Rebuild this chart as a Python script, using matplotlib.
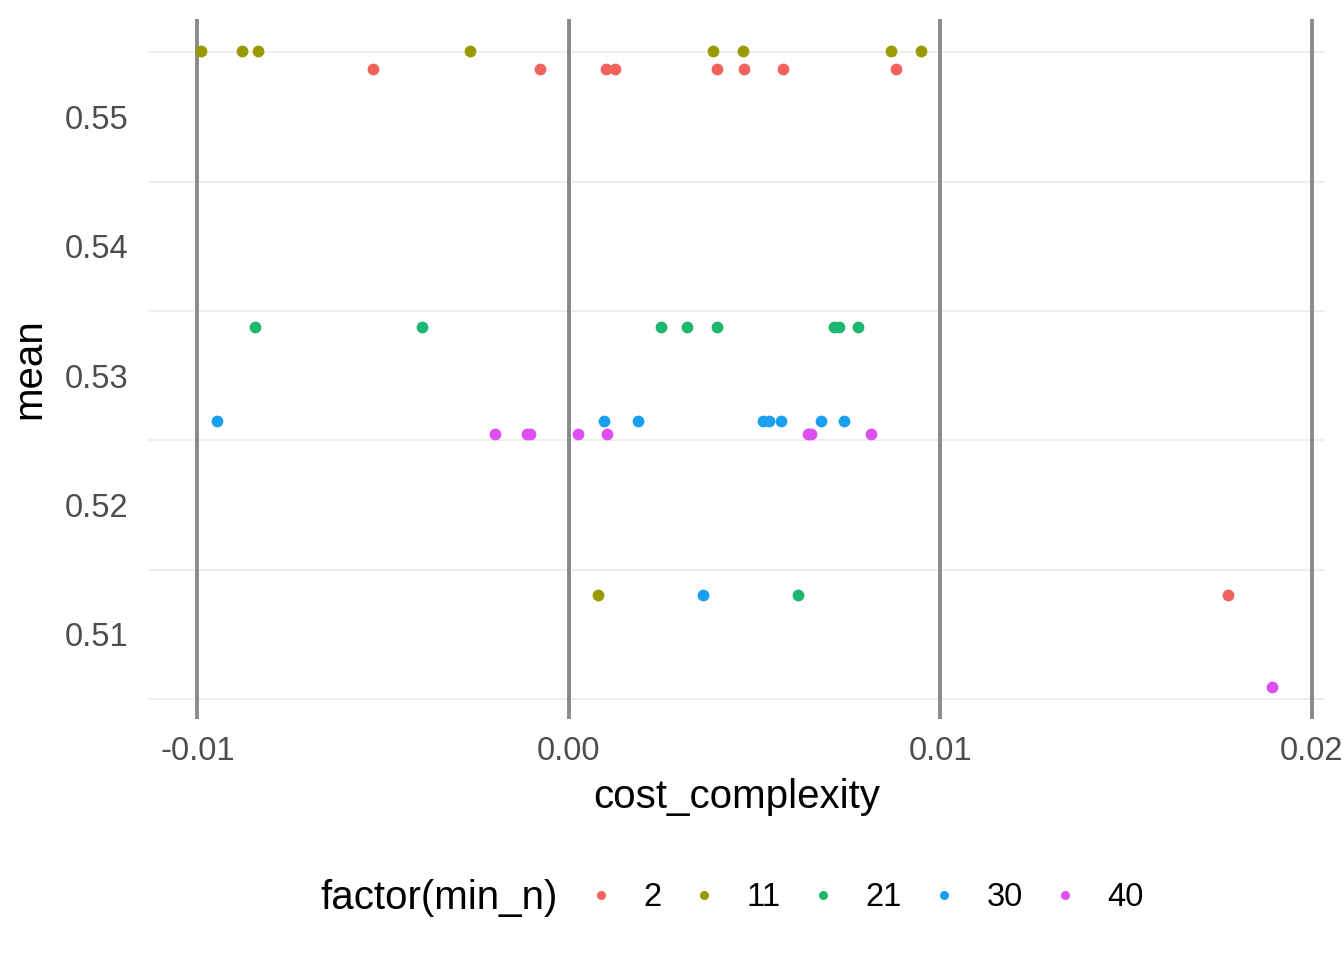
import matplotlib
matplotlib.use("Agg")
import matplotlib.pyplot as plt
from matplotlib.lines import Line2D

plt.rcParams['font.family'] = ['Liberation Sans', 'DejaVu Sans']

# factor(min_n) groups and their hue colours (as rendered in the reference)
groups = ["2", "11", "21", "30", "40"]
colors = ["#F2625D", "#999900", "#1CB86F", "#1A9FF0", "#DD4FEE"]

# jittered points: (cost_complexity, mean)
cc_2 = [-0.00526, -0.00078, 0.00101, 0.00124, 0.00399, 0.00472, 0.00577, 0.00881, 0.01776]
mean_2 = [0.55371, 0.55371, 0.55371, 0.55371, 0.55371, 0.55371, 0.55371, 0.55371, 0.51302]

cc_11 = [-0.00991, -0.00881, -0.00838, -0.00267, 0.00389, 0.00468, 0.00867, 0.00948, 0.00078]
mean_11 = [0.55511, 0.55511, 0.55511, 0.55511, 0.55511, 0.55511, 0.55511, 0.55511, 0.51302]

cc_21 = [-0.00846, -0.00394, 0.00248, 0.00318, 0.00398, 0.00715, 0.00727, 0.00779, 0.00617]
mean_21 = [0.53375, 0.53375, 0.53375, 0.53375, 0.53375, 0.53375, 0.53375, 0.53375, 0.51302]

cc_30 = [-0.00946, 0.00095, 0.00186, 0.00524, 0.00540, 0.00570, 0.00679, 0.00740, 0.00361]
mean_30 = [0.52648, 0.52648, 0.52648, 0.52648, 0.52648, 0.52648, 0.52648, 0.52648, 0.51302]

cc_40 = [-0.00198, -0.00113, -0.00105, 0.00026, 0.00102, 0.00643, 0.00652, 0.00814, 0.01892]
mean_40 = [0.52547, 0.52547, 0.52547, 0.52547, 0.52547, 0.52547, 0.52547, 0.52547, 0.50590]

xs = [cc_2, cc_11, cc_21, cc_30, cc_40]
ys = [mean_2, mean_11, mean_21, mean_30, mean_40]

vlines = [-0.01, 0.0, 0.01, 0.02]
x_ticks = [-0.01, 0.0, 0.01, 0.02]
x_labels = ["-0.01", "0.00", "0.01", "0.02"]
y_ticks = [0.51, 0.52, 0.53, 0.54, 0.55]
y_labels = ["0.51", "0.52", "0.53", "0.54", "0.55"]
y_grid = [0.505, 0.515, 0.525, 0.535, 0.545, 0.555]

W, H = 1344, 960
fig = plt.figure(figsize=(W / 100, H / 100), dpi=100)
ax = fig.add_axes([148 / W, 1 - 719 / H, (1325 - 148) / W, (719 - 19) / H])

for g in y_grid:
    ax.axhline(g, color="#EBEBEB", linewidth=1.2, zorder=0)
for v in vlines:
    ax.axvline(v, color="#8A8A8A", linewidth=2.8, zorder=1)

for x, y, c in zip(xs, ys, colors):
    ax.scatter(x, y, s=72, color=c, linewidths=0, zorder=3)

ax.set_xlim(-0.01133, 0.02036)
ax.set_ylim(0.50344, 0.55757)
ax.set_xticks(x_ticks)
ax.set_xticklabels(x_labels)
ax.set_yticks(y_ticks)
ax.set_yticklabels(y_labels)
ax.tick_params(axis="y", length=0, labelsize=23.5, colors="#4D4D4D", pad=14)
ax.tick_params(axis="x", length=0, labelsize=23.5, colors="#4D4D4D", pad=12)
for s in ax.spines.values():
    s.set_visible(False)

ax.set_xlabel("cost_complexity", fontsize=29, labelpad=8)
ax.set_ylabel("mean", fontsize=29, labelpad=12)

handles = [Line2D([], [], marker="o", linestyle="", markersize=6.5, markeredgewidth=0, color=c)
           for c in colors]
fig.legend(handles, groups, ncol=5, loc="center left",
           bbox_to_anchor=(591 / W, 1 - 898 / H), frameon=False,
           fontsize=23.5, handlelength=0.6, handletextpad=1.0, columnspacing=1.0,
           borderaxespad=0, borderpad=0)
fig.text(558 / W, 1 - 898 / H, "factor(min_n)", fontsize=29, ha="right", va="center")

fig.savefig("out.png", dpi=100)
